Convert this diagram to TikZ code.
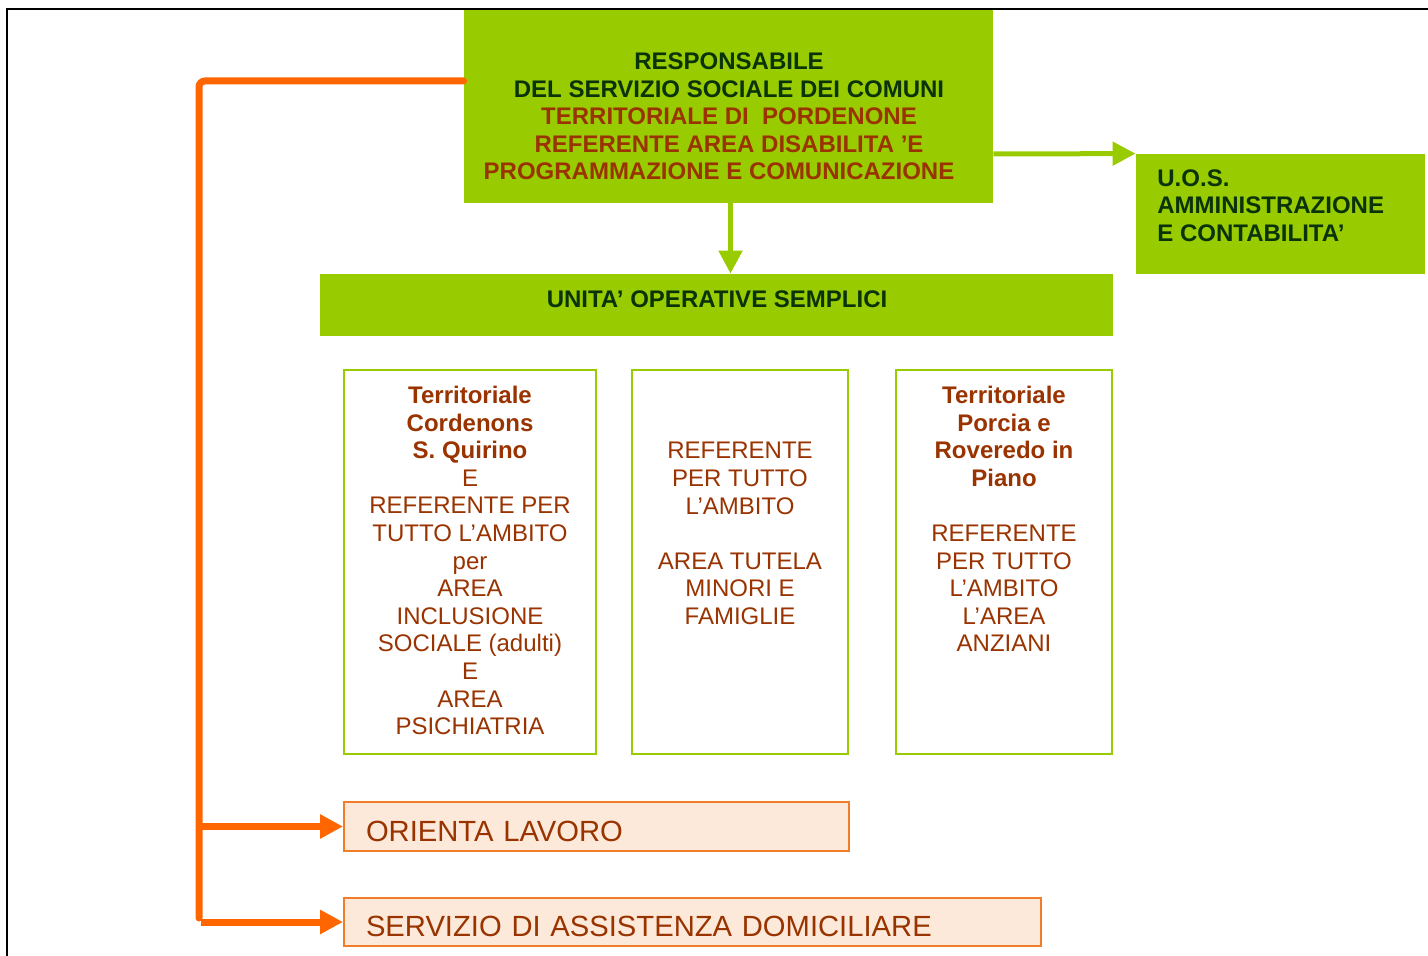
\documentclass[tikz,border=0pt]{standalone}
\usepackage{fontspec}
\setmainfont{Liberation Sans}
\usepackage{tikz}
\usetikzlibrary{calc,positioning,arrows.meta}
\definecolor{ssgreen}{RGB}{153,204,0}
\definecolor{darkgr}{RGB}{10,51,10}
\definecolor{brick}{RGB}{153,51,0}
\definecolor{orangeln}{RGB}{255,102,0}
\definecolor{peach}{RGB}{253,233,217}
\definecolor{peachln}{RGB}{240,125,40}
\tikzset{greenbox/.style={fill=ssgreen,draw=none,inner sep=0pt},
         areabox/.style={draw=ssgreen,line width=1pt,fill=white,inner sep=0pt},
         servbox/.style={draw=peachln,line width=1pt,fill=peach,inner ysep=0pt,inner xsep=11pt,
                         align=left,text=brick,text height=14.5pt,text depth=0pt,
                         font=\fontsize{14.6}{16}\selectfont},
         hdtxt/.style={inner sep=0pt,align=center,font=\fontsize{12}{13.8}\selectfont\bfseries},
         areatxt/.style={inner sep=0pt,align=center,text=brick,font=\fontsize{12}{13.8}\selectfont},
         spine/.style={orangeln,line width=3.5pt,line cap=round,rounded corners=3pt},
         orangearrow/.style={orangeln,line width=3.5pt,-{Triangle[length=11.5pt,width=11.5pt]}},
         greenarrow/.style={ssgreen,line width=2.5pt,-{Triangle[length=11.5pt,width=11.5pt]}}}

\begin{document}
\begin{tikzpicture}[x=0.5pt,y=-0.5pt]
  \useasboundingbox (0,0) rectangle (1428,956);
  % frame
  \draw[line width=1pt] (7,956) -- (7,9) -- (1428,9);

  % boxes
  \node[greenbox,minimum width=264.5pt,minimum height=96.5pt] (resp) at (728.5,106.5) {};
  \node[greenbox,minimum width=144.5pt,minimum height=60pt] (uos) at (1280.5,214) {};
  \node[greenbox,minimum width=396.5pt,minimum height=31pt] (unita) at (716.5,305) {};
  \node[areabox,minimum width=126pt,minimum height=192pt] (cordenons) at (470,562) {};
  \node[areabox,minimum width=108pt,minimum height=192pt] (minori) at (740,562) {};
  \node[areabox,minimum width=108pt,minimum height=192pt] (porcia) at (1004,562) {};
  \node[servbox,text width=230.5pt,minimum height=24.5pt] (orienta) at (596.5,826.5) {ORIENTA LAVORO};
  \node[servbox,text width=326.5pt,minimum height=24pt] (sad) at (692.5,922) {SERVIZIO DI ASSISTENZA DOMICILIARE};

  % texts
  \node[hdtxt,text=brick] (resptxt) at (729,116.5)
    {\textcolor{darkgr}{RESPONSABILE}\\\textcolor{darkgr}{DEL SERVIZIO SOCIALE DEI COMUNI}\\
     TERRITORIALE DI\ \ PORDENONE\\REFERENTE AREA DISABILITA ’E\\PROGRAMMAZIONE E COMUNICAZIONE\hspace*{10pt}};
  \node[hdtxt,text=darkgr,align=left,anchor=west] (uostxt) at (1157,205.5)
    {U.O.S.\\AMMINISTRAZIONE\\E CONTABILITA’};
  \node[hdtxt,text=darkgr] (unitatxt) at (717,299) {UNITA’ OPERATIVE SEMPLICI};
  \node[areatxt] (cordenonstxt) at (470,560.5)
    {\textbf{Territoriale}\\\textbf{Cordenons}\\\textbf{S. Quirino}\\E\\REFERENTE PER\\TUTTO L’AMBITO\\per\\
     AREA\\INCLUSIONE\\SOCIALE (adulti)\\E\\AREA\\PSICHIATRIA};
  \node[areatxt] (minoritxt) at (740,533.5)
    {REFERENTE\\PER TUTTO\\L’AMBITO\\[13.8pt]AREA TUTELA\\MINORI E\\FAMIGLIE};
  \node[areatxt] (porciatxt) at (1004,519)
    {\textbf{Territoriale}\\\textbf{Porcia e}\\\textbf{Roveredo in}\\\textbf{Piano}\\[13.8pt]
     REFERENTE\\PER TUTTO\\L’AMBITO\\L’AREA\\ANZIANI};

  % connectors
  \draw[greenarrow] ([xshift=1pt]resp.south) -- ([xshift=1pt]resp.south |- unita.north);
  \draw[greenarrow] ($(resp.east)+(0,47.5)$) -- (uos.north west);
  \coordinate (bottom) at (199,918);
  \draw[spine] ($(resp.west)+(0,-25.5)$) -| (bottom);
  \draw[orangearrow] (orienta.west -| bottom) -- (orienta.west);
  \draw[orangearrow] ([xshift=1pt]sad.west -| bottom) -- (sad.west);
\end{tikzpicture}
\end{document}
